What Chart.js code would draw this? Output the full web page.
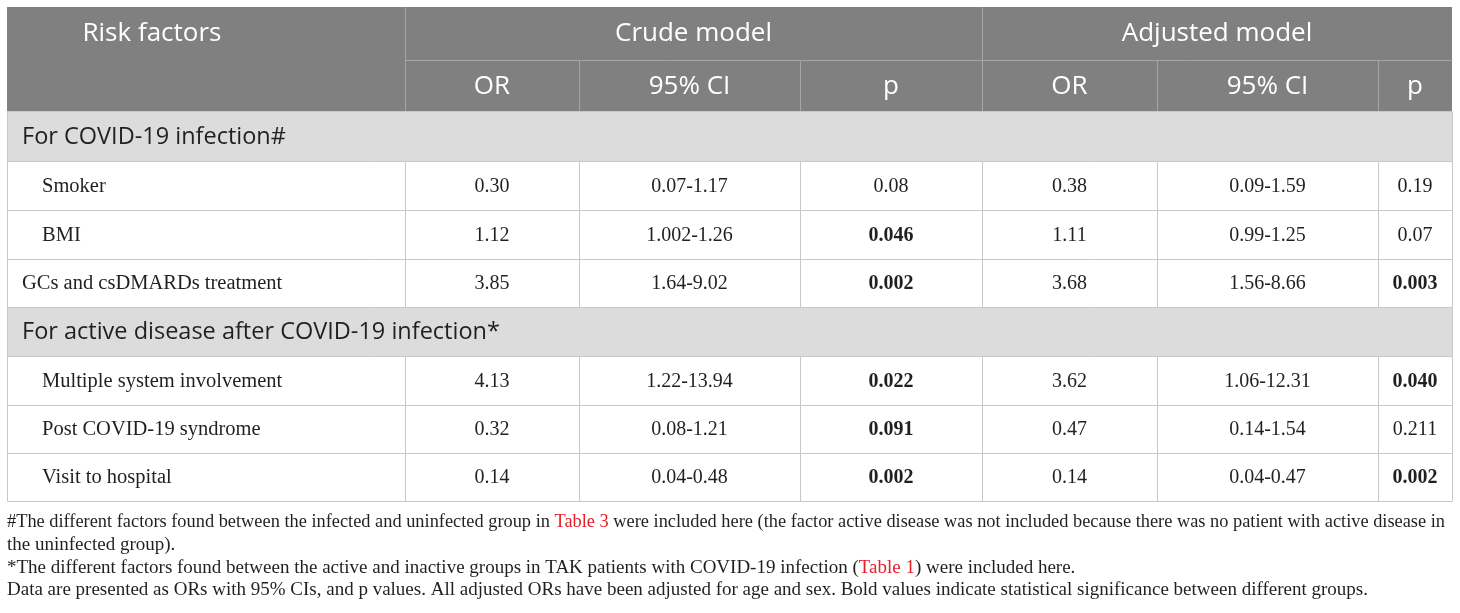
<!DOCTYPE html>
<html>
<head>
<meta charset="utf-8">
<script src="https://cdn.jsdelivr.net/npm/chart.js@4.4.0/dist/chart.umd.min.js"></script>
<style>
  html, body { margin: 0; padding: 0; background: #fff; }
  #tabla { display: block; }
</style>
</head>
<body>
<canvas id="tabla" width="1460" height="613"></canvas>
<script>
// Datos de la tabla
const grupos = ["Crude model", "Adjusted model"];
const columnas = ["OR", "95% CI", "p", "OR", "95% CI", "p"];
const secciones = ["For COVID-19 infection#", "For active disease after COVID-19 infection*"];
const factores = ["Smoker", "BMI", "GCs and csDMARDs treatment",
                  "Multiple system involvement", "Post COVID-19 syndrome", "Visit to hospital"];
const seccionDeFactor = [0, 0, 0, 1, 1, 1];
const sangria = [true, true, false, true, true, true];
const crudoOR = ["0.30", "1.12", "3.85", "4.13", "0.32", "0.14"];
const crudoIC = ["0.07-1.17", "1.002-1.26", "1.64-9.02", "1.22-13.94", "0.08-1.21", "0.04-0.48"];
const crudoP = ["0.08", "0.046", "0.002", "0.022", "0.091", "0.002"];
const crudoPNegrita = [false, true, true, true, true, true];
const ajusOR = ["0.38", "1.11", "3.68", "3.62", "0.47", "0.14"];
const ajusIC = ["0.09-1.59", "0.99-1.25", "1.56-8.66", "1.06-12.31", "0.14-1.54", "0.04-0.47"];
const ajusP = ["0.19", "0.07", "0.003", "0.040", "0.211", "0.002"];
const ajusPNegrita = [false, false, true, true, false, true];
const notas = [
    [["#The different factors found between the infected and uninfected group in ", false], ["Table 3", true],
     [" were included here (the factor active disease was not included because there was no patient with active disease in", false]],
    [["the uninfected group).", false]],
    [["*The different factors found between the active and inactive groups in TAK patients with COVID-19 infection (", false],
     ["Table 1", true], [") were included here.", false]],
    [["Data are presented as ORs with 95% CIs, and p values. All adjusted ORs have been adjusted for age and sex. Bold values indicate statistical significance between different groups.", false]]
];

// Disposición (en unidades de las escalas)
const bordesX = [7, 405, 579, 800, 982, 1157, 1378, 1452];
const bordesY = [7, 60, 111, 161, 210, 259, 307, 356, 405, 453, 501];
const notasY = [522, 545, 568, 590];

const SANS = '"Open Sans", "Noto Sans", sans-serif';
const SERIF = '"Liberation Serif", "DejaVu Serif", serif';

const dibujarTabla = {
    id: "dibujarTabla",
    afterDraw(chart) {
        const c = chart.ctx;
        const sx = v => chart.scales.x.getPixelForValue(v);
        const sy = v => chart.scales.y.getPixelForValue(v);
        const L = sx(bordesX[0]), R = sx(bordesX[7]);

        c.save();
        c.textBaseline = "middle";

        // Encabezado
        c.fillStyle = "#808080";
        c.fillRect(L, sy(bordesY[0]), R - L, sy(bordesY[2]) - sy(bordesY[0]));
        c.strokeStyle = "#a6a6a6";
        c.lineWidth = 1;
        const linea = (x1, y1, x2, y2) => {
            c.beginPath();
            c.moveTo(Math.round(x1) + 0.5, Math.round(y1) + 0.5);
            c.lineTo(Math.round(x2) + 0.5, Math.round(y2) + 0.5);
            c.stroke();
        };
        linea(sx(bordesX[1]), sy(bordesY[1]), R, sy(bordesY[1]));
        linea(sx(bordesX[1]), sy(bordesY[0]), sx(bordesX[1]), sy(bordesY[2]));
        linea(sx(bordesX[4]), sy(bordesY[0]), sx(bordesX[4]), sy(bordesY[2]));
        [2, 3, 5, 6].forEach(i => linea(sx(bordesX[i]), sy(bordesY[1]), sx(bordesX[i]), sy(bordesY[2])));

        c.fillStyle = "#ffffff";
        c.font = "26px " + SANS;
        c.textAlign = "center";
        c.fillText("Risk factors", sx(152), sy(34));
        c.fillText(grupos[0], (sx(bordesX[1]) + sx(bordesX[4])) / 2, sy(34));
        c.fillText(grupos[1], (sx(bordesX[4]) + sx(bordesX[7])) / 2, sy(34));
        columnas.forEach((col, i) => {
            c.fillText(col, (sx(bordesX[i + 1]) + sx(bordesX[i + 2])) / 2, sy(87));
        });

        // Filas
        let fila = 2;
        let seccionActual = -1;
        factores.forEach((f, i) => {
            if (seccionDeFactor[i] !== seccionActual) {
                seccionActual = seccionDeFactor[i];
                const y0 = sy(bordesY[fila]), y1 = sy(bordesY[fila + 1]);
                c.fillStyle = "#dcdcdc";
                c.fillRect(L, y0, R - L, y1 - y0);
                c.fillStyle = "#231f20";
                c.font = "23.5px " + SANS;
                c.textAlign = "left";
                c.fillText(secciones[seccionActual], sx(22), (y0 + y1) / 2 + 1);
                fila++;
            }
            const y0 = sy(bordesY[fila]), y1 = sy(bordesY[fila + 1]);
            const ym = (y0 + y1) / 2 + 1;
            c.fillStyle = "#231f20";
            c.textAlign = "left";
            c.font = "20.5px " + SERIF;
            c.fillText(f, sx(sangria[i] ? 42 : 22), ym);
            const valores = [crudoOR[i], crudoIC[i], crudoP[i], ajusOR[i], ajusIC[i], ajusP[i]];
            const negrita = [false, false, crudoPNegrita[i], false, false, ajusPNegrita[i]];
            c.textAlign = "center";
            valores.forEach((v, k) => {
                c.font = (negrita[k] ? "bold " : "") + "20px " + SERIF;
                c.fillText(v, (sx(bordesX[k + 1]) + sx(bordesX[k + 2])) / 2, ym);
            });
            c.strokeStyle = "#c8c8c8";
            for (let k = 1; k < 7; k++) linea(sx(bordesX[k]), y0, sx(bordesX[k]), y1);
            fila++;
        });

        // Lineas horizontales y bordes
        c.strokeStyle = "#c8c8c8";
        for (let k = 2; k < bordesY.length; k++) linea(L, sy(bordesY[k]), R, sy(bordesY[k]));
        linea(L, sy(bordesY[2]), L, sy(bordesY[10]));
        linea(R, sy(bordesY[2]), R, sy(bordesY[10]));

        // Notas al pie (se comprimen si no caben en el ancho)
        c.textAlign = "left";
        c.font = "19px " + SERIF;
        const anchoMax = sx(1445) - sx(7);
        notas.forEach((partes, n) => {
            const total = partes.reduce((s, p) => s + c.measureText(p[0]).width, 0);
            const escala = Math.min(1, anchoMax / total);
            c.save();
            c.translate(sx(7), sy(notasY[n]));
            c.scale(escala, 1);
            let x = 0;
            partes.forEach(([texto, rojo]) => {
                c.fillStyle = rojo ? "#e4202b" : "#231f20";
                c.fillText(texto, x, 0);
                x += c.measureText(texto).width;
            });
            c.restore();
        });
        c.restore();
    }
};

const ctx = document.getElementById("tabla").getContext("2d");
const tabla = new Chart(ctx, {
    type: "scatter",
    data: { datasets: [{ data: [], pointRadius: 0 }] },
    options: {
        responsive: false,
        animation: false,
        layout: { padding: 0 },
        plugins: { legend: { display: false }, tooltip: { enabled: false } },
        scales: {
            x: { type: "linear", min: 0, max: 1460, display: false },
            y: { type: "linear", min: 0, max: 613, reverse: true, display: false }
        }
    },
    plugins: [dibujarTabla]
});
</script>
</body>
</html>
